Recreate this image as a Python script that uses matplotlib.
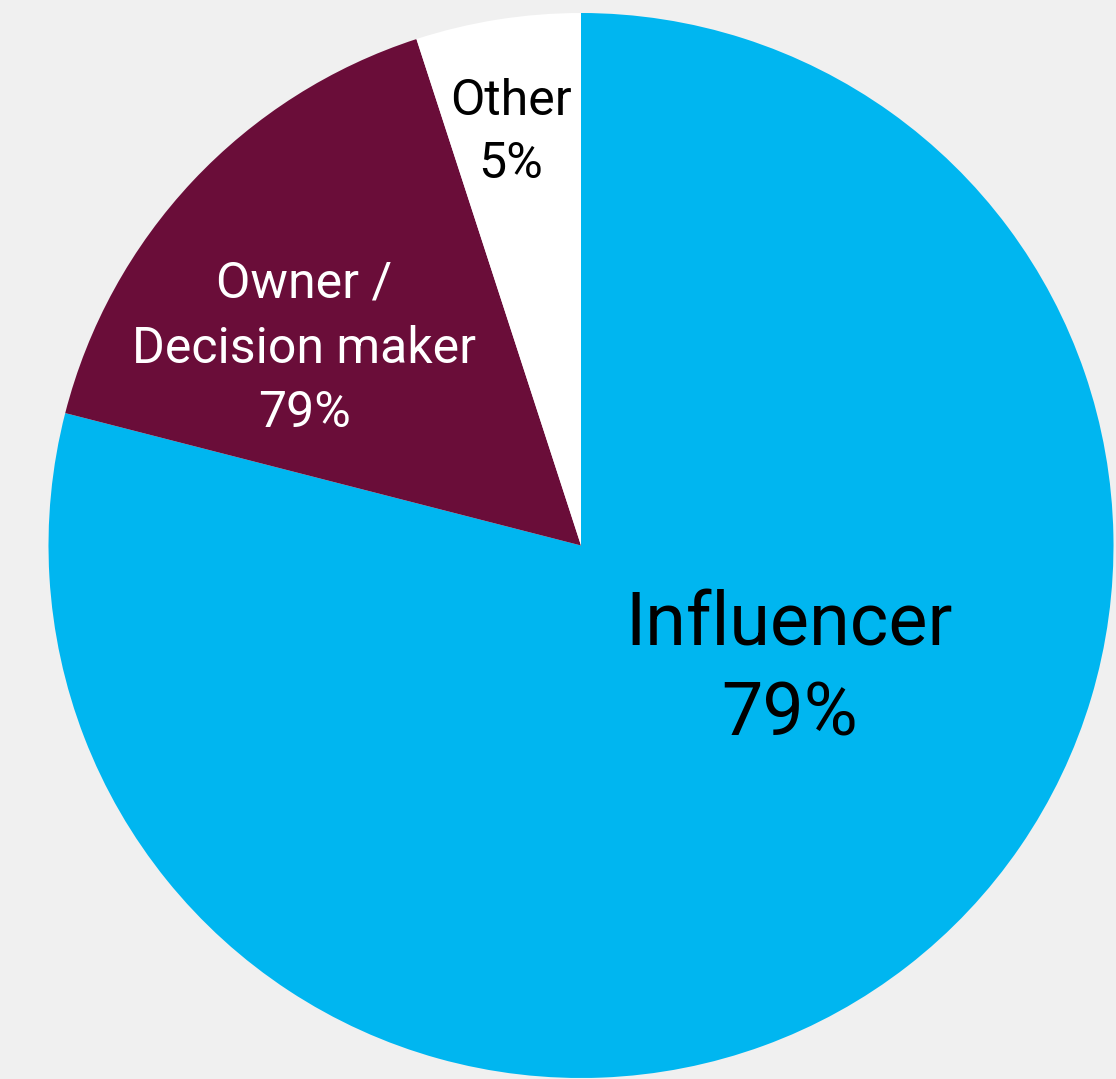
import matplotlib
matplotlib.use("Agg")
import matplotlib.pyplot as plt

categories = ["Influencer", "Owner /\nDecision maker", "Other"]
values = [79, 16, 5]
value_labels = ["79%", "79%", "5%"]
colors = ["#00b6f0", "#6a0d39", "#ffffff"]
text_colors = ["black", "white", "black"]

W, H = 1116, 1079
fig = plt.figure(figsize=(W / 100, H / 100), dpi=100)
fig.patch.set_facecolor("#f0f0f0")

cx, cy, r = 581, 545.5, 532.5
ax = fig.add_axes([(cx - r) / W, (H - cy - r) / H, 2 * r / W, 2 * r / H])
ax.pie(values, colors=colors, startangle=90, counterclock=False, radius=1,
       wedgeprops=dict(linewidth=0))
ax.set_xlim(-1, 1)
ax.set_ylim(-1, 1)
ax.set_aspect("equal")
ax.axis("off")

font = "Roboto"

def put(text, x, y_baseline, size, color):
    fig.text(x / W, 1 - y_baseline / H, text, ha="center", va="baseline",
             fontsize=size, color=color, family=font)

# Influencer
put(categories[0], 789, 645, 53, text_colors[0])
put(value_labels[0], 790, 735, 53, text_colors[0])
# Owner / Decision maker
lines = categories[1].split("\n")
put(lines[0], 304, 298, 36, text_colors[1])
put(lines[1], 304, 363, 36, text_colors[1])
put(value_labels[1], 304, 427, 36, text_colors[1])
# Other
put(categories[2], 511, 115, 36, text_colors[2])
put(value_labels[2], 511, 178, 36, text_colors[2])

fig.savefig("out.png", dpi=100, facecolor=fig.get_facecolor())
